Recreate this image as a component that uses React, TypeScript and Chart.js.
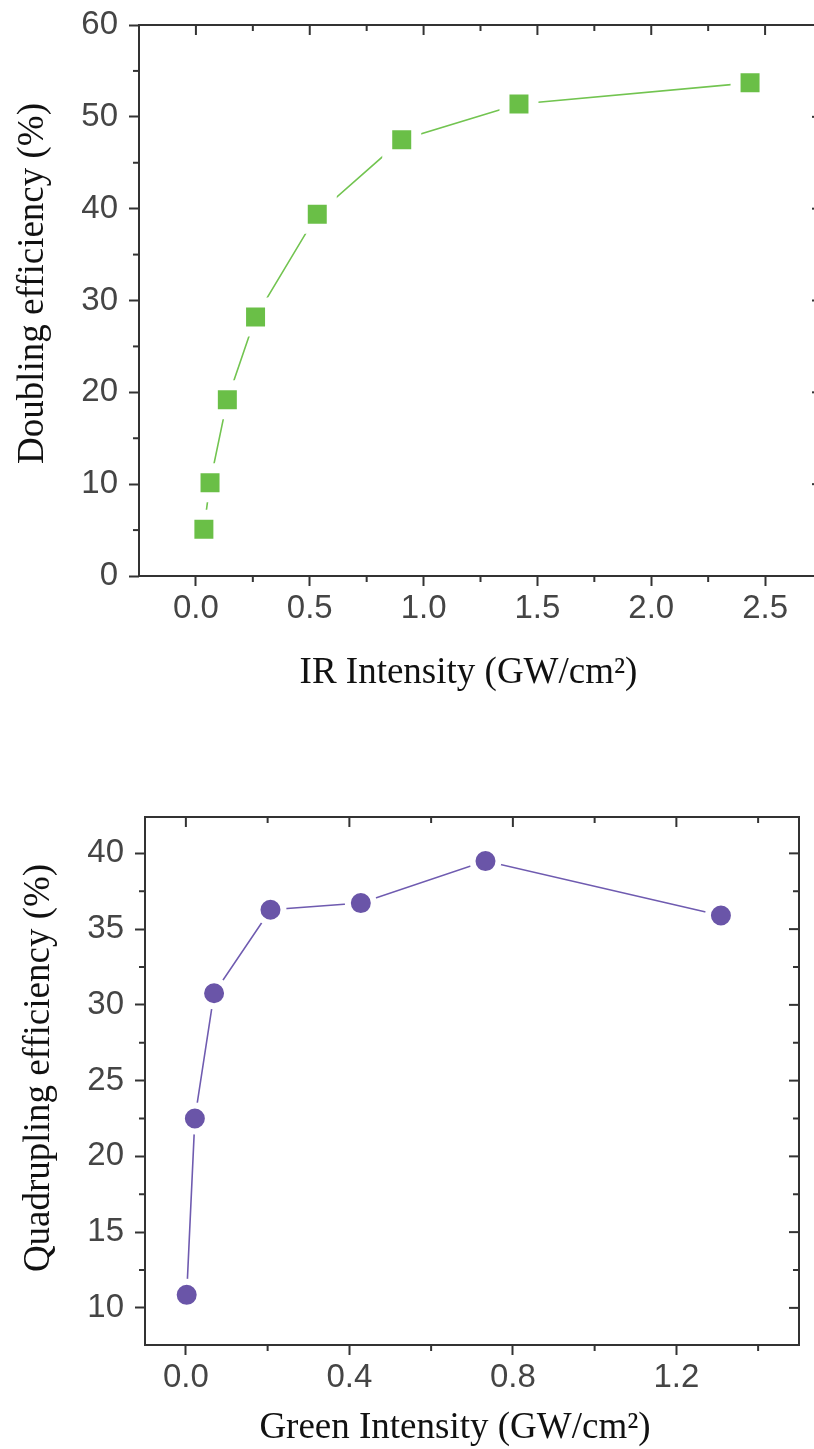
import React, { useEffect, useRef } from "react";
import { Chart, registerables } from "chart.js";

Chart.register(...registerables);

// ---------- Data: top chart (second-harmonic / doubling) ----------
const IR_INTENSITY = [0.035, 0.062, 0.138, 0.262, 0.533, 0.904, 1.419, 2.434];
const DOUBLING_EFFICIENCY = [5.1, 10.15, 19.2, 28.2, 39.4, 47.5, 51.4, 53.7];
const IR_X_TICKS = [0, 0.5, 1.0, 1.5, 2.0, 2.5];
const IR_X_MINOR = [0.25, 0.75, 1.25, 1.75, 2.25];
const DOUBLING_Y_TICKS = [0, 10, 20, 30, 40, 50, 60];
const DOUBLING_Y_MINOR = [5, 15, 25, 35, 45, 55];

// ---------- Data: bottom chart (quadrupling) ----------
const GREEN_INTENSITY = [0.002, 0.022, 0.069, 0.207, 0.428, 0.733, 1.309];
const QUADRUPLING_EFFICIENCY = [10.86, 22.5, 30.77, 36.28, 36.72, 39.49, 35.9];
const GREEN_X_TICKS = [0, 0.4, 0.8, 1.2];
const GREEN_X_MINOR = [0.2, 0.6, 1.0, 1.4];
const QUAD_Y_TICKS = [10, 15, 20, 25, 30, 35, 40];
const QUAD_Y_MINOR = [12.5, 17.5, 22.5, 27.5, 32.5, 37.5];

const AXIS_COLOR = "#333333";
const TICK_LABEL_COLOR = "#454545";
const TICK_FONT = { family: '"Liberation Sans", Arial, sans-serif', size: 33 };
const TITLE_FONT = '37px "Liberation Serif", "Times New Roman", serif';

const framePlugin = {
  id: "frame",
  afterDraw(chart: any, _args: any, opts: any) {
    const { ctx, chartArea: a, scales } = chart;
    const x = scales.x;
    const y = scales.y;
    ctx.save();
    ctx.strokeStyle = AXIS_COLOR;
    ctx.lineWidth = 2;
    ctx.beginPath();
    ctx.rect(a.left, a.top, a.right - a.left, a.bottom - a.top);
    ctx.stroke();
    const line = (x1: number, y1: number, x2: number, y2: number) => {
      ctx.beginPath();
      ctx.moveTo(x1, y1);
      ctx.lineTo(x2, y2);
      ctx.stroke();
    };
    for (const v of opts.xMajor) {
      const p = x.getPixelForValue(v);
      line(p, a.top, p, a.top + 10);
    }
    for (const v of opts.xMinor) {
      const p = x.getPixelForValue(v);
      line(p, a.top, p, a.top + 6);
      line(p, a.bottom, p, a.bottom + 6);
    }
    for (const v of opts.yMajor) {
      const p = y.getPixelForValue(v);
      line(a.right, p, a.right - 10, p);
    }
    for (const v of opts.yMinor) {
      const p = y.getPixelForValue(v);
      line(a.left, p, a.left - 6, p);
      line(a.right, p, a.right - 6, p);
    }
    ctx.restore();
  },
};

const titlePlugin = {
  id: "axisTitles",
  afterDraw(chart: any, _args: any, opts: any) {
    const { ctx, chartArea: a } = chart;
    ctx.save();
    ctx.font = TITLE_FONT;
    ctx.fillStyle = "#111111";
    ctx.textAlign = "center";
    ctx.textBaseline = "alphabetic";
    ctx.fillText(opts.xText, (a.left + a.right) / 2 + opts.xDx, a.bottom + opts.xOffset);
    ctx.translate(a.left - opts.yOffset, (a.top + a.bottom) / 2 + opts.yDy);
    ctx.rotate(-Math.PI / 2);
    ctx.fillText(opts.yText, 0, 0);
    ctx.restore();
  },
};

const zeroPadding = (s: any) => {
  s.paddingTop = 0;
  s.paddingBottom = 0;
  s.paddingLeft = 0;
  s.paddingRight = 0;
};

function makeConfig(p: any): any {
  return {
    type: "line",
    data: {
      datasets: [
        {
          data: p.xs.map((v: number, i: number) => ({ x: v, y: p.ys[i] })),
          borderColor: p.lineColor,
          borderWidth: 1.6,
          tension: 0,
          pointStyle: p.pointStyle,
          pointRadius: p.pointRadius,
          pointHoverRadius: p.pointRadius,
          pointBackgroundColor: p.fill,
          pointBorderColor: "#ffffff",
          pointBorderWidth: p.gapWidth,
          pointHoverBorderWidth: p.gapWidth,
          clip: false,
        },
      ],
    },
    options: {
      animation: false,
      responsive: false,
      layout: { autoPadding: false, padding: { left: 0, right: p.padRight, top: p.padTop, bottom: 0 } },
      plugins: {
        legend: { display: false },
        tooltip: { enabled: false },
        frame: { xMajor: p.xTicks, xMinor: p.xMinor, yMajor: p.yTicks, yMinor: p.yMinor },
        axisTitles: p.titles,
      },
      scales: {
        x: {
          type: "linear",
          min: p.xMin,
          max: p.xMax,
          afterBuildTicks: (s: any) => {
            s.ticks = p.xTicks.map((v: number) => ({ value: v }));
          },
          afterFit: (s: any) => {
            s.height = p.xAxisHeight;
            zeroPadding(s);
          },
          grid: { drawOnChartArea: false, drawTicks: true, tickLength: 10, tickWidth: 2, tickColor: AXIS_COLOR },
          border: { display: false },
          ticks: {
            padding: 3,
            color: TICK_LABEL_COLOR,
            font: TICK_FONT,
            maxRotation: 0,
            autoSkip: false,
            callback: (v: any) => Number(v).toFixed(1),
          },
        },
        y: {
          type: "linear",
          min: p.yMin,
          max: p.yMax,
          afterBuildTicks: (s: any) => {
            s.ticks = p.yTicks.map((v: number) => ({ value: v }));
          },
          afterFit: (s: any) => {
            s.width = p.yAxisWidth;
            zeroPadding(s);
          },
          grid: { drawOnChartArea: false, drawTicks: true, tickLength: 10, tickWidth: 2, tickColor: AXIS_COLOR },
          border: { display: false },
          ticks: {
            padding: 11,
            color: TICK_LABEL_COLOR,
            font: TICK_FONT,
            autoSkip: false,
            callback: (v: any) => String(Math.round(Number(v))),
          },
        },
      },
    },
    plugins: [framePlugin, titlePlugin],
  };
}

export default function App() {
  const ref1 = useRef<HTMLCanvasElement>(null);
  const ref2 = useRef<HTMLCanvasElement>(null);

  useEffect(() => {
    const c1 = new Chart(
      ref1.current as HTMLCanvasElement,
      makeConfig({
        xs: IR_INTENSITY,
        ys: DOUBLING_EFFICIENCY,
        lineColor: "#72c450",
        fill: "#6abf47",
        pointStyle: "rect",
        pointRadius: 20.5,
        gapWidth: 10,
        xMin: -0.25,
        xMax: 2.75,
        yMin: 0,
        yMax: 60,
        xTicks: IR_X_TICKS,
        xMinor: IR_X_MINOR,
        yTicks: DOUBLING_Y_TICKS,
        yMinor: DOUBLING_Y_MINOR,
        padRight: 18,
        padTop: 25,
        xAxisHeight: 144,
        yAxisWidth: 139,
        titles: {
          xText: "IR Intensity (GW/cm\u00B2)",
          xDx: -12,
          xOffset: 107,
          yText: "Doubling efficiency (%)",
          yDy: -17,
          yOffset: 96,
        },
      })
    );
    const c2 = new Chart(
      ref2.current as HTMLCanvasElement,
      makeConfig({
        xs: GREEN_INTENSITY,
        ys: QUADRUPLING_EFFICIENCY,
        lineColor: "#6f5bb0",
        fill: "#6a55a8",
        pointStyle: "circle",
        pointRadius: 13,
        gapWidth: 6,
        xMin: -0.1,
        xMax: 1.5,
        yMin: 7.55,
        yMax: 42.4,
        xTicks: GREEN_X_TICKS,
        xMinor: GREEN_X_MINOR,
        yTicks: QUAD_Y_TICKS,
        yMinor: QUAD_Y_MINOR,
        padRight: 15,
        padTop: 77,
        xAxisHeight: 104,
        yAxisWidth: 145,
        titles: {
          xText: "Green Intensity (GW/cm\u00B2)",
          xDx: -17,
          xOffset: 93,
          yText: "Quadrupling efficiency (%)",
          yDy: -13,
          yOffset: 96,
        },
      })
    );
    return () => {
      c1.destroy();
      c2.destroy();
    };
  }, []);

  return (
    <div
      style={{
        position: "fixed",
        left: 0,
        top: 0,
        width: 814,
        height: 1449,
        overflow: "hidden",
        background: "#ffffff",
      }}
    >
      <div style={{ position: "absolute", left: 0, top: 0, width: 840, height: 720 }}>
        <canvas ref={ref1} width={840} height={720} style={{ width: 840, height: 720, display: "block" }} />
      </div>
      <div style={{ position: "absolute", left: 0, top: 740, width: 814, height: 709 }}>
        <canvas ref={ref2} width={814} height={709} style={{ width: 814, height: 709, display: "block" }} />
      </div>
    </div>
  );
}
